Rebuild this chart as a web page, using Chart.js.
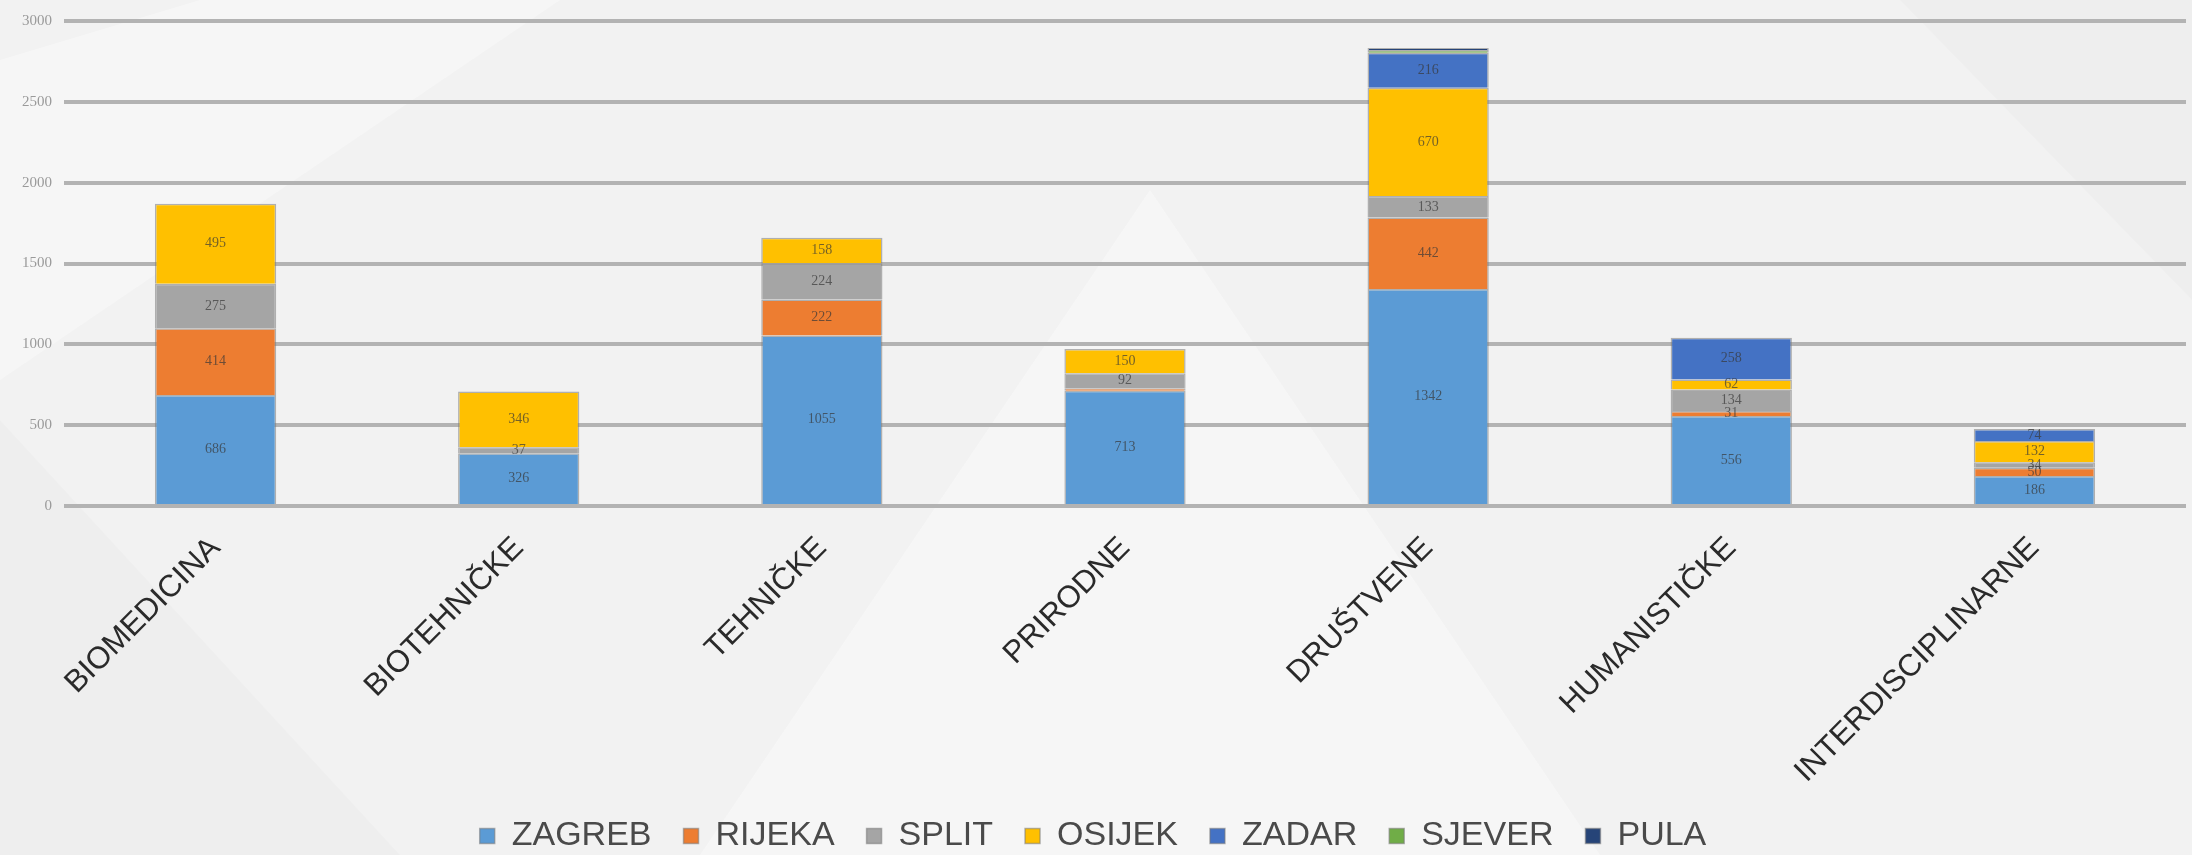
<!DOCTYPE html>
<html>
<head>
<meta charset="utf-8">
<script src="https://cdn.jsdelivr.net/npm/chart.js@4.4.0/dist/chart.umd.min.js"></script>
<style>
  html, body { margin: 0; padding: 0; background: #f4f4f4; }
  #wrap { width: 2192px; height: 855px; }
</style>
</head>
<body>
<div id="wrap"><canvas id="myChart" width="2192" height="855"></canvas></div>
<script>
var categories = ["BIOMEDICINA", "BIOTEHNIČKE", "TEHNIČKE", "PRIRODNE", "DRUŠTVENE", "HUMANISTIČKE", "INTERDISCIPLINARNE"];

var zagreb = [686, 326, 1055, 713, 1342, 556, 186];
var rijeka = [414, 0, 222, 16, 442, 31, 50];
var split = [275, 37, 224, 92, 133, 134, 34];
var osijek = [495, 346, 158, 150, 670, 62, 132];
var zadar = [0, 0, 0, 0, 216, 258, 74];
var sjever = [0, 0, 0, 0, 18, 0, 0];
var pula = [0, 0, 0, 0, 12, 0, 0];

var yTicks = [0, 500, 1000, 1500, 2000, 2500, 3000];

var bgPlugin = {
    id: "bg",
    beforeDraw: function (chart) {
        var c = chart.ctx;
        c.save();
        c.fillStyle = "#f2f2f2";
        c.fillRect(0, 0, chart.width, chart.height);
        // faint diagonal shapes of the slide background
        c.fillStyle = "rgba(255,255,255,0.35)";
        c.beginPath(); c.moveTo(0, 60); c.lineTo(200, 0); c.lineTo(560, 0); c.lineTo(0, 380); c.closePath(); c.fill();
        c.beginPath(); c.moveTo(700, 855); c.lineTo(1150, 190); c.lineTo(1600, 855); c.closePath(); c.fill();
        c.fillStyle = "rgba(0,0,0,0.015)";
        c.beginPath(); c.moveTo(0, 420); c.lineTo(400, 855); c.lineTo(0, 855); c.closePath(); c.fill();
        c.beginPath(); c.moveTo(1900, 0); c.lineTo(2192, 0); c.lineTo(2192, 300); c.closePath(); c.fill();
        c.restore();
    }
};

var labelPlugin = {
    id: "barLabels",
    afterDatasetsDraw: function (chart) {
        var c = chart.ctx;
        c.save();
        c.font = "14px 'Liberation Serif'";
        c.fillStyle = "rgba(55,55,55,0.7)";
        c.textAlign = "center";
        c.textBaseline = "middle";
        chart.data.datasets.forEach(function (ds, i) {
            var meta = chart.getDatasetMeta(i);
            meta.data.forEach(function (bar, j) {
                var v = ds.data[j];
                if (!v || v < 25) return;
                c.fillText(String(v), bar.x, (bar.y + bar.base) / 2);
            });
        });
        c.restore();
    }
};

function makeSet(label, data, color) {
    return {
        label: label,
        data: data,
        backgroundColor: color,
        borderColor: "rgba(120,120,120,0.55)",
        borderWidth: 1.5,
        barPercentage: 0.4,
        categoryPercentage: 1.0
    };
}

var ctx = document.getElementById("myChart").getContext("2d");
var myChart = new Chart(ctx, {
    type: "bar",
    data: {
        labels: categories,
        datasets: [
            makeSet("ZAGREB", zagreb, "#5B9BD5"),
            makeSet("RIJEKA", rijeka, "#ED7D31"),
            makeSet("SPLIT", split, "#A5A5A5"),
            makeSet("OSIJEK", osijek, "#FFC000"),
            makeSet("ZADAR", zadar, "#4472C4"),
            makeSet("SJEVER", sjever, "#70AD47"),
            makeSet("PULA", pula, "#264478")
        ]
    },
    options: {
        responsive: false,
        animation: false,
        layout: { padding: { top: 17, right: 6, left: 0, bottom: -8 } },
        plugins: {
            tooltip: { enabled: false },
            legend: {
                position: "bottom",
                labels: {
                    boxWidth: 15,
                    boxHeight: 15,
                    padding: 32,
                    color: "#4a4a4a",
                    font: { family: "'Liberation Sans', Arial", size: 34 }
                }
            }
        },
        scales: {
            x: {
                stacked: true,
                grid: { display: false },
                border: { display: false },
                afterFit: function (scale) { scale.height = 281; },
                ticks: {
                    autoSkip: false,
                    maxRotation: 45,
                    minRotation: 45,
                    padding: 16,
                    color: "#2a2a2a",
                    font: { family: "'Liberation Sans', Arial", size: 31 }
                }
            },
            y: {
                stacked: true,
                min: 0,
                max: 3000,
                afterBuildTicks: function (scale) {
                    scale.ticks = yTicks.map(function (v) { return { value: v }; });
                },
                afterFit: function (scale) { scale.width = 64; },
                grid: { color: "#b3b3b3", lineWidth: 4, drawTicks: false },
                border: { display: false },
                ticks: {
                    padding: 12,
                    color: "#9a9a9a",
                    font: { family: "'Liberation Serif'", size: 15 },
                    callback: function (v) { return String(v); }
                }
            }
        }
    },
    plugins: [bgPlugin, labelPlugin]
});
</script>
</body>
</html>
